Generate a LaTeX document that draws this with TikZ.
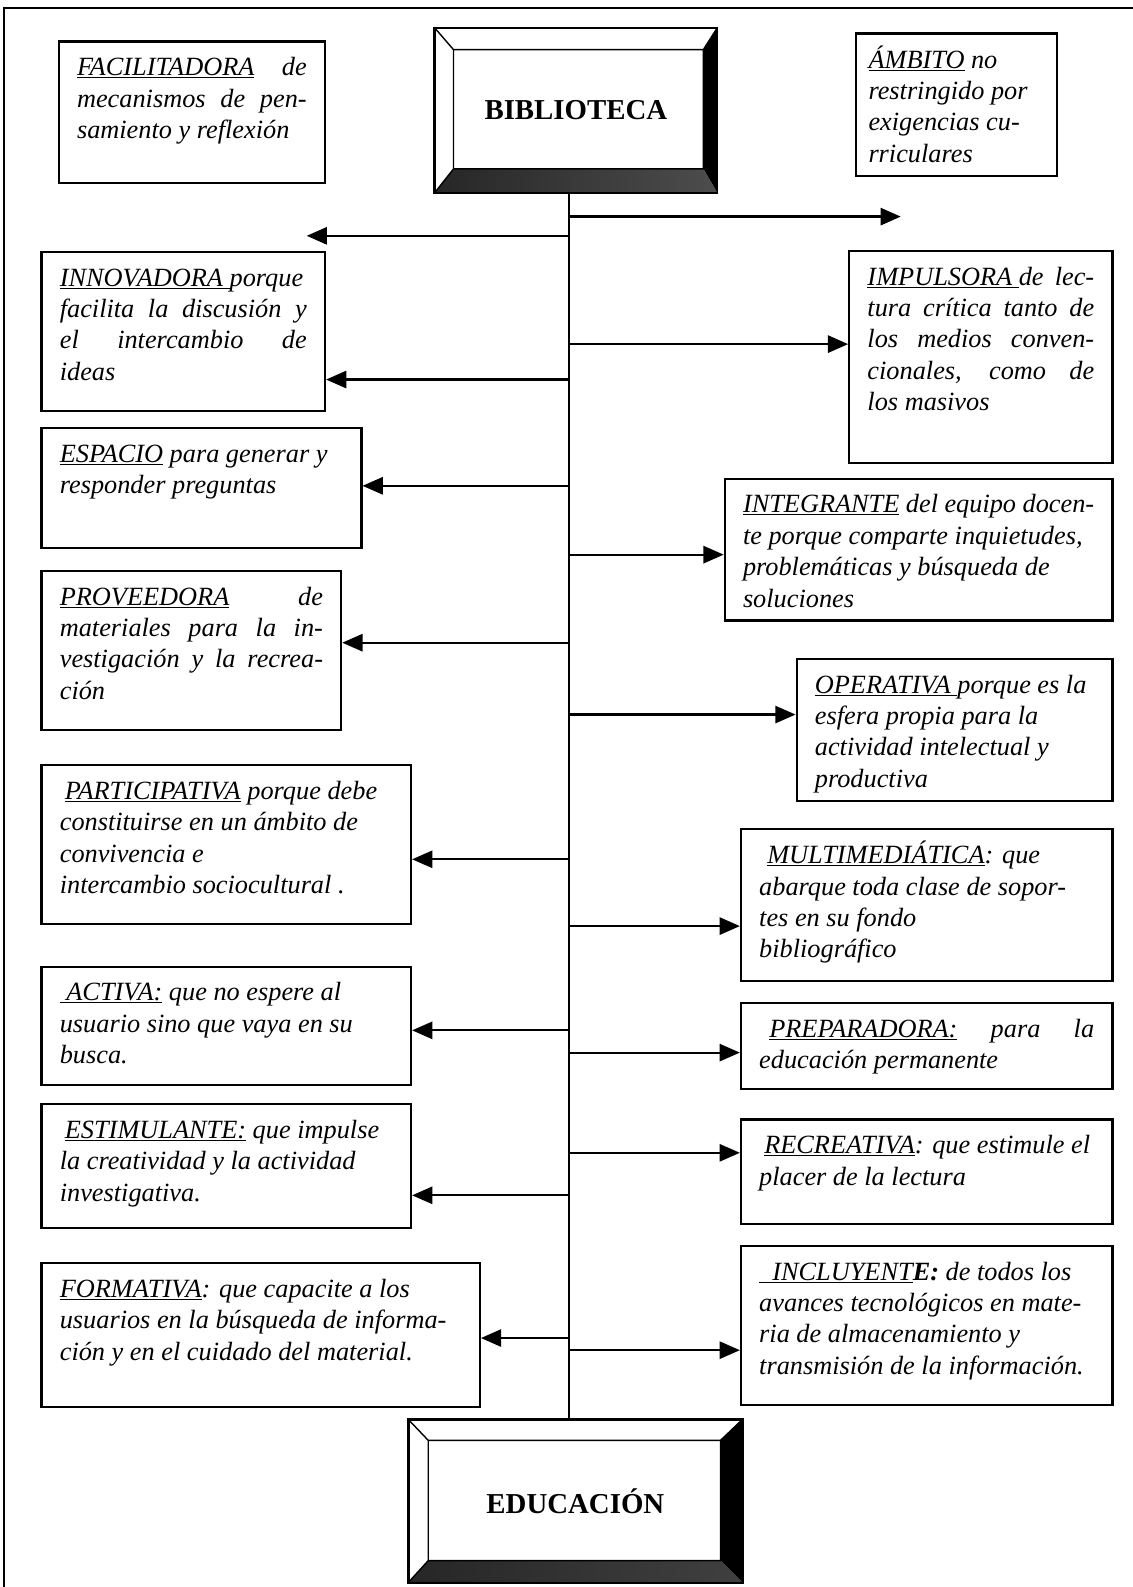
\documentclass[tikz,border=0pt]{standalone}
\usepackage{fontspec}
\setmainfont{Liberation Serif}
\usetikzlibrary{calc, arrows.meta}

\newcommand{\cuerpo}{\fontsize{26}{31}\selectfont\itshape}
\newcommand{\titulo}{\fontsize{28.5}{34}\selectfont\bfseries}
\newcommand{\cuadro}[3]{\parbox[t][#2pt][t]{#1pt}{\strut#3}}

\begin{document}
\begin{tikzpicture}[x=1pt, y=-1pt,
    caja/.style={draw, line width=2.2pt, anchor=north west, inner xsep=18pt, inner ysep=12pt, font=\cuerpo},
    marco/.style={draw, line width=1.8pt, inner sep=0pt, font=\titulo},
    linea/.style={line width=2.2pt},
    flecha/.style={line width=2.2pt, -{Triangle[length=20pt, width=17pt]}}]
  \useasboundingbox (0,0) rectangle (1119,1568);
  \draw[line width=1.8pt] (4,1568) -- (4,8) -- (1119,8);

  % cajas de arriba
  \node[marco, minimum width=278, minimum height=162] (biblio) at (569,109) {BIBLIOTECA};
  \coordinate (bib-nw) at ($(biblio.north west)+(19,22)$);
  \coordinate (bib-ne) at ($(biblio.north east)+(-14,22)$);
  \coordinate (bib-se) at ($(biblio.south east)+(-14,-24)$);
  \coordinate (bib-sw) at ($(biblio.south west)+(19,-24)$);
  \fill (biblio.north east) -- (biblio.south east) -- (bib-se) -- (bib-ne) -- cycle;
  \shade[left color=black!85, middle color=black!35, right color=black!70] (biblio.south west) -- (biblio.south east) -- (bib-se) -- (bib-sw) -- cycle;
  \draw[line width=1.4pt] (bib-nw) rectangle (bib-se) (biblio.north west) -- (bib-nw) (biblio.north east) -- (bib-ne) (biblio.south west) -- (bib-sw);
  \draw[line width=1.8pt] (biblio.north west) rectangle (biblio.south east);

  \node[caja] (facil) at (57,40) {\cuadro{227}{116}{\underline{FACILITADORA} de\linebreak mecanismos de pen-\linebreak samiento y reflexión}};
  \node[caja, inner xsep=12pt] (ambito) at (845,32) {\cuadro{174}{117}{\underline{ÁMBITO} no\\ restringido por\\ exigencias cu-\\ rriculares}};

  % izquierda
  \node[caja] (innov) at (40,248) {\cuadro{244}{133}{\underline{INNOVADORA\ }porque\linebreak facilita la discusión y\linebreak el intercambio de\linebreak ideas}};
  \node[caja] (espacio) at (40,422) {\cuadro{280}{94}{\underline{ESPACIO} para generar y\\ responder preguntas}};
  \node[caja] (provee) at (40,563) {\cuadro{260}{133}{\underline{PROVEEDORA} de\linebreak materiales para la in-\linebreak vestigación y la recrea-\linebreak ción}};
  \node[caja] (partic) at (40,755) {\cuadro{329}{133}{\hspace{5pt}\underline{PARTICIPATIVA} porque debe\\ constituirse en un ámbito de\\ convivencia e\\ intercambio sociocultural .}};
  \node[caja] (activa) at (40,954) {\cuadro{329}{93}{\underline{\ ACTIVA:} que no espere al\\ usuario sino que vaya en su\\ busca.}};
  \node[caja] (estim) at (40,1090) {\cuadro{329}{98}{\hspace{5pt}\underline{ESTIMULANTE:} que impulse\\ la creatividad y la actividad\\ investigativa.}};
  \node[caja] (format) at (40,1247) {\cuadro{397}{118}{\underline{FORMATIVA}: que capacite a los\\ usuarios en la búsqueda de informa-\\ ción y en el cuidado del material.}};

  % derecha
  \node[caja] (impuls) at (838,247) {\cuadro{224}{185}{\underline{IMPULSORA\ }de lec-\linebreak tura crítica tanto de\linebreak los medios conven-\linebreak cionales, como de\linebreak los masivos}};
  \node[caja] (integr) at (715,472) {\cuadro{347}{116}{\underline{INTEGRANTE} del equipo docen-\\ te porque comparte inquietudes,\\ problemáticas y búsqueda de\\ soluciones}};
  \node[caja] (operat) at (786,650) {\cuadro{276}{116}{\underline{OPERATIVA\ }porque es la\\ esfera propia para la\\ actividad intelectual y\\ productiva}};
  \node[caja] (multim) at (731,818) {\cuadro{331}{126}{\hspace{8pt}\underline{MULTIMEDIÁTICA}: que\\ abarque toda clase de sopor-\\ tes en su fondo\\ bibliográfico}};
  \node[caja] (prepar) at (731,990) {\cuadro{331}{61}{\hspace{10pt}\underline{PREPARADORA:} para la\linebreak educación permanente}};
  \node[caja] (recrea) at (731,1105) {\cuadro{331}{79}{\hspace{5pt}\underline{RECREATIVA}: que estimule el\\ placer de la lectura}};
  \node[caja] (incluy) at (731,1230) {\cuadro{331}{133}{\underline{\ \ INCLUYENT}\textbf{E:} de todos los\\ avances tecnológicos en mate-\\ ria de almacenamiento y\\ transmisión de la información.}};

  % caja de abajo
  \node[marco, minimum width=329, minimum height=160] (educ) at (568.5,1483) {EDUCACIÓN};
  \coordinate (edu-nw) at ($(educ.north west)+(20,21)$);
  \coordinate (edu-ne) at ($(educ.north east)+(-22,21)$);
  \coordinate (edu-se) at ($(educ.south east)+(-22,-22)$);
  \coordinate (edu-sw) at ($(educ.south west)+(20,-22)$);
  \fill (educ.north east) -- (educ.south east) -- (edu-se) -- (edu-ne) -- cycle;
  \shade[left color=black!85, middle color=black!35, right color=black!75] (educ.south west) -- (educ.south east) -- (edu-se) -- (edu-sw) -- cycle;
  \draw[line width=1.4pt] (edu-nw) rectangle (edu-se) (educ.north west) -- (edu-nw) (educ.north east) -- (edu-ne) (educ.south west) -- (edu-sw);
  \draw[line width=1.8pt] (educ.north west) rectangle (educ.south east);

  % tronco
  \draw[linea] (biblio.south -| 562,0) -- (educ.north -| 562,0);

  % flechas
  \coordinate (t-izq) at (562,233);
  \coordinate (izq) at (303,233);
  \coordinate (t-der) at (562,214);
  \coordinate (der) at (890,214);
  \coordinate (t-innov) at (562,375);
  \coordinate (t-impuls) at (562,340);
  \coordinate (t-espacio) at (562,480);
  \coordinate (t-integr) at (562,548);
  \coordinate (t-provee) at (562,635);
  \coordinate (t-operat) at (562,706);
  \coordinate (t-partic) at (562,849);
  \coordinate (t-multim) at (562,915);
  \coordinate (t-activa) at (562,1018);
  \coordinate (t-prepar) at (562,1040);
  \coordinate (t-estim) at (562,1181);
  \coordinate (t-recrea) at (562,1139);
  \coordinate (t-format) at (562,1322);
  \coordinate (t-incluy) at (562,1334);

  \draw[flecha] (t-izq) -- (izq);
  \draw[flecha] (t-der) -- (der);
  \draw[flecha] (t-innov) -- (t-innov -| innov.east);
  \draw[flecha] (t-impuls) -- (t-impuls -| impuls.west);
  \draw[flecha] (t-espacio) -- (t-espacio -| espacio.east);
  \draw[flecha] (t-integr) -- (t-integr -| integr.west);
  \draw[flecha] (t-provee) -- (t-provee -| provee.east);
  \draw[flecha] (t-operat) -- (t-operat -| operat.west);
  \draw[flecha] (t-partic) -- (t-partic -| partic.east);
  \draw[flecha] (t-multim) -- (t-multim -| multim.west);
  \draw[flecha] (t-activa) -- (t-activa -| activa.east);
  \draw[flecha] (t-prepar) -- (t-prepar -| prepar.west);
  \draw[flecha] (t-estim) -- (t-estim -| estim.east);
  \draw[flecha] (t-recrea) -- (t-recrea -| recrea.west);
  \draw[flecha] (t-format) -- (t-format -| format.east);
  \draw[flecha] (t-incluy) -- (t-incluy -| incluy.west);
\end{tikzpicture}
\end{document}
